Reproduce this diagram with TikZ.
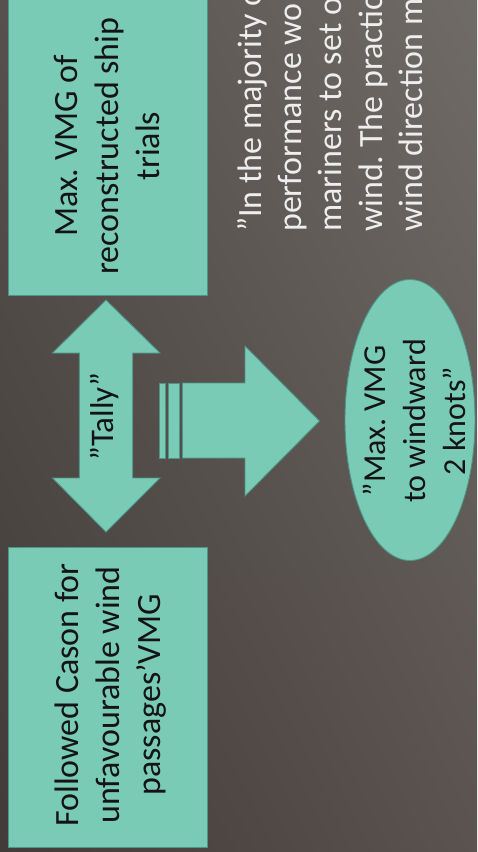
\documentclass[tikz,border=0pt]{standalone}
\usepackage{fontspec}
\setmainfont{Carlito}
\usetikzlibrary{shapes.geometric,shadings}
\definecolor{mint}{HTML}{79CBB5}
\definecolor{mintedge}{HTML}{4F9484}
\definecolor{boxink}{HTML}{141414}
\definecolor{quoteink}{HTML}{EEEEEE}
\definecolor{bgUL}{HTML}{57514E}
\definecolor{bgUR}{HTML}{6F6B67}
\definecolor{bgLL}{HTML}{413B39}
\definecolor{bgLR}{HTML}{5A5350}
\newcommand{\oq}{\symbol{34}}
\frenchspacing
\begin{document}
\begin{tikzpicture}[x=1pt,y=1pt,
  shapefill/.style={fill=mint, draw=mintedge, line width=0.9pt},
  boxshape/.style={shapefill, rectangle, inner sep=0pt},
  boxtext/.style={rotate=90, align=center, inner sep=0pt, text=boxink,
    font=\fontsize{34}{41}\selectfont},
  smalltext/.style={rotate=90, align=center, inner sep=0pt, text=boxink,
    font=\fontsize{32}{40}\selectfont},
  quotetext/.style={rotate=90, align=left, inner sep=0pt, text=quoteink,
    font=\fontsize{34}{40.3}\selectfont}]
\useasboundingbox (0,0) rectangle (477,-852);
\clip (0,0) rectangle (477,-852);
\shade[upper left=bgUL, upper right=bgUR, lower left=bgLL, lower right=bgLR]
  (0,0) rectangle (477,-852);

% boxes
\node[boxshape, minimum width=199.5pt, minimum height=305pt] (trialsbox) at (107.75,-142.5) {};
\node[boxtext] (trialstext) at (107,-146) {Max. VMG of\\reconstructed ship\\trials};
\node[boxshape, minimum width=199.5pt, minimum height=300pt] (casonbox) at (107.75,-697) {};
\node[boxtext] (casontext) at (111,-695) {Followed Cason for\\unfavourable wind\\passages’VMG};

% double arrow "Tally"
\coordinate (dtop) at (106,-300);
\coordinate (dbot) at (106,-532);
\filldraw[shapefill] (dtop) -- (160,-353) -- (132.7,-353) -- (132.7,-478) -- (160,-478)
  -- (dbot) -- (52.5,-478) -- (79.3,-478) -- (79.3,-353) -- (52.5,-353) -- cycle;
\node[rotate=90, anchor=base, inner sep=0pt, text=boxink,
  font=\fontsize{33}{40}\selectfont] (tally) at (113,-416.5) {\oq Tally”};

% striped block arrow
\filldraw[shapefill] (159,-383) rectangle (165,-458);
\filldraw[shapefill] (168.5,-383) rectangle (179,-458);
\coordinate (atip) at (319.5,-421);
\filldraw[shapefill] (182.5,-383) -- (245,-383) -- (245,-346) -- (atip)
  -- (245,-496) -- (245,-458) -- (182.5,-458) -- cycle;

% ellipse
\node[ellipse, shapefill, minimum width=130pt, minimum height=281pt, inner sep=0pt]
  (goal) at (410,-420) {};
\node[smalltext] (goaltext) at (414.5,-421) {\oq Max. VMG\\to windward\\2 knots”};

% quote
\node[quotetext, anchor=north west] (quote) at (237,-232) {\oq In the majority o\\performance wo\\mariners to set o\\wind. The practic\\wind direction m};
\end{tikzpicture}
\end{document}
